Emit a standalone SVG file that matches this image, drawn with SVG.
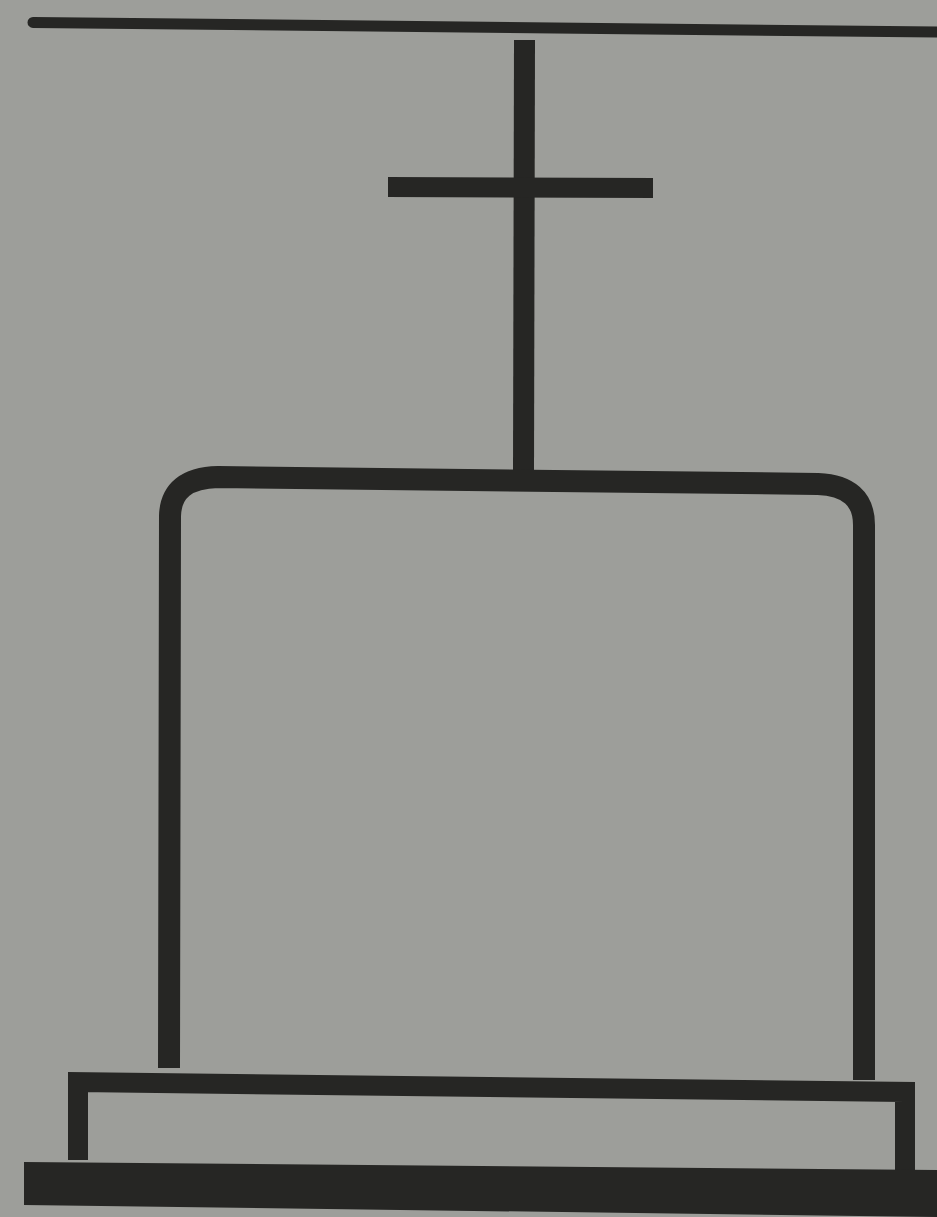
<svg xmlns="http://www.w3.org/2000/svg" width="937" height="1217" viewBox="0 0 937 1217">
<style>
.ink{fill:none;stroke:#262624;stroke-linejoin:miter}
.solid{fill:#262624}
</style>
<rect x="0" y="0" width="937" height="1217" fill="#9d9e9a"/>
<g id="ground-line">
<line class="ink" x1="33" y1="22.5" x2="937" y2="32" stroke-width="11" stroke-linecap="round"/>
</g>
<g id="cross">
<polygon class="solid" points="514,40 535,40 534,470 513,470"/>
<polygon class="solid" points="388,177 653,178 653,198 388,197"/>
</g>
<g id="arch">
<path class="ink" stroke-width="22" d="M169,1068 L170,516 Q171,478 218,477 L818,484 Q864,486 864,525 L864,1080"/>
</g>
<g id="base">
<path class="ink" stroke-width="20" d="M78,1160 L78,1082 L905,1092 L905,1172"/>
<polygon class="solid" points="24,1162 937,1170 937,1217 24,1205"/>
</g>
</svg>
